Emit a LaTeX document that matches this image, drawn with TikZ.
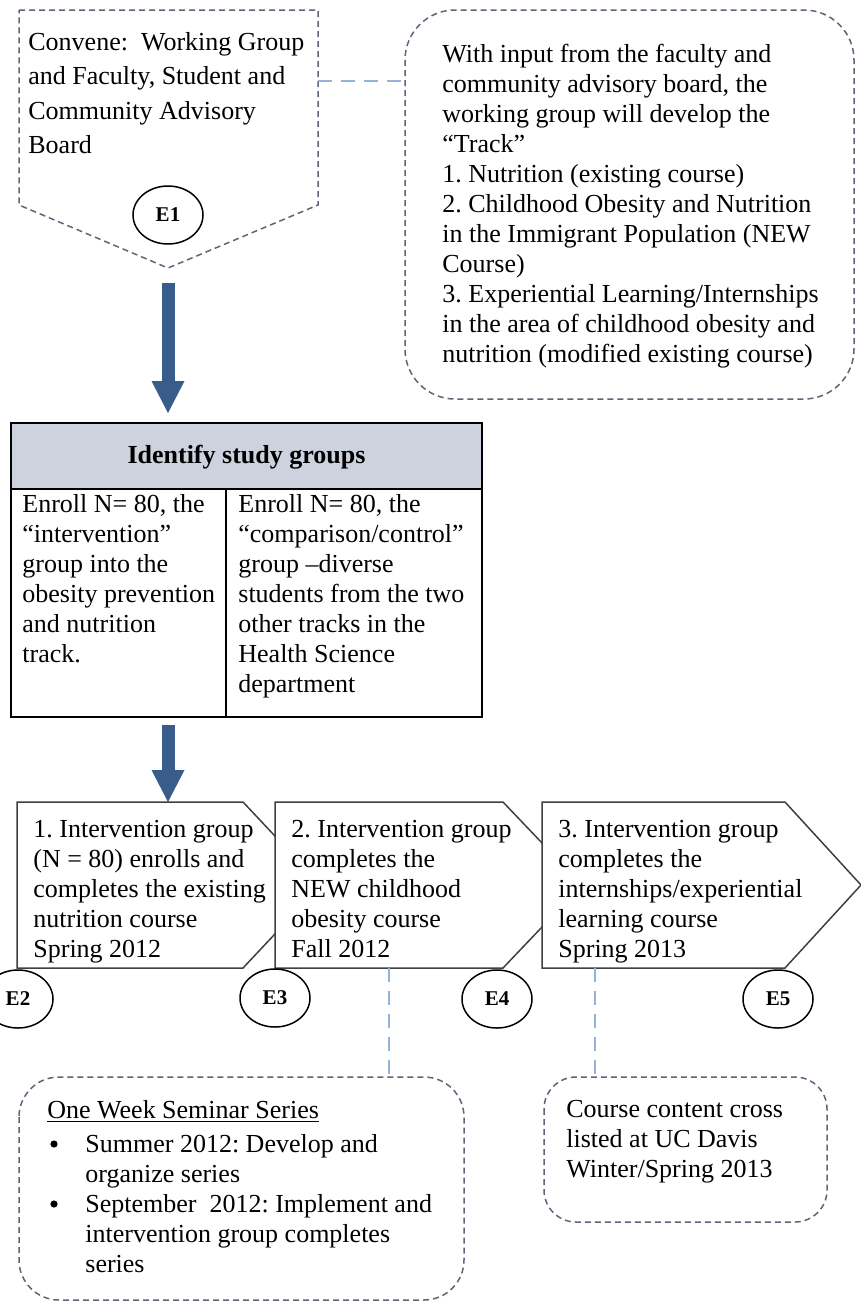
\documentclass[tikz,border=0pt]{standalone}
\usepackage{fontspec}
\setmainfont{Liberation Serif}
\usetikzlibrary{shapes.geometric,arrows.meta}
\definecolor{dashgray}{RGB}{92,102,120}
\definecolor{linkblue}{RGB}{149,179,215}
\definecolor{arrowblue}{RGB}{56,93,138}
\definecolor{headfill}{RGB}{205,211,222}
\newcommand\topstrut{\rule{0pt}{10pt}}
\frenchspacing
\begin{document}
\begin{tikzpicture}[x=0.5pt,y=-0.5pt,
  txt/.style={anchor=north west, inner sep=0pt, align=left, font=\fontsize{13}{15}\selectfont},
  dashbox/.style={draw=dashgray, line width=0.75pt, dash pattern=on 3pt off 2pt, fill=white},
  link/.style={draw=linkblue, line width=1.1pt, dash pattern=on 7pt off 4.5pt},
  procbox/.style={draw=black!75, line width=0.75pt, fill=white},
  eventmark/.style={ellipse, draw=black, line width=0.75pt, fill=white, inner sep=0pt,
    minimum width=35pt, minimum height=29pt, font=\fontsize{10.5}{12}\selectfont\bfseries},
  bigarrow/.style={draw=arrowblue, line width=6.5pt,
    -{Triangle[width=16.5pt,length=16pt,line width=0pt]}},
  tablerule/.style={draw=black, line width=1pt},
  bulletdot/.style={circle, fill=black, inner sep=0pt, minimum size=3.6pt}
]
\useasboundingbox (0,0) rectangle (861,1303);
\clip (0,0) rectangle (861,1303);
\fill[white] (0,0) rectangle (861,1303);

% --- E1 convene box
\draw[dashbox] (19,10) -- (318,10) -- (318,205) -- (168,268) -- (19,205) -- cycle;
\coordinate (cvR) at (318,81);
\node[txt, font=\fontsize{13}{17.2}\selectfont] (convene) at (28,30)
  {\topstrut Convene:~ Working Group\\and Faculty, Student and\\Community Advisory\\Board};
\node[eventmark] (E1) at (168,215) {E1};

% --- track box
\draw[dashbox, rounded corners=25pt] (405,10) rectangle (854,399);
\coordinate (trL) at (405,81);
\node[txt] (track) at (442,42)
  {\topstrut With input from the faculty and\\community advisory board, the\\working group will develop the\\“Track”\\1. Nutrition (existing course)\\2. Childhood Obesity and Nutrition\\in the Immigrant Population (NEW\\Course)\\3. Experiential Learning/Internships\\in the area of childhood obesity and\\nutrition (modified existing course)};
\draw[link] (cvR) -- (trL);

% --- arrow 1
\coordinate (a1s) at (168,283);
\coordinate (a1e) at (168,413);
\draw[bigarrow] (a1s) -- (a1e);

% --- table
\fill[headfill] (11,423) rectangle (482,489);
\draw[tablerule] (11,423) rectangle (482,717);
\draw[tablerule] (11,489) -- (482,489);
\draw[tablerule] (226,489) -- (226,717);
\node[anchor=base, inner sep=0pt, font=\fontsize{13}{15}\selectfont\bfseries] (idhead) at (246.5,463) {Identify study groups};
\node[txt] (enrollA) at (22,492)
  {\topstrut Enroll N= 80, the\\“intervention”\\group into the\\obesity prevention\\and nutrition\\track.};
\node[txt] (enrollB) at (238,492)
  {\topstrut Enroll N= 80, the\\“comparison/control”\\group –diverse\\students from the two\\other tracks in the\\Health Science\\department};

% --- arrow 2
\coordinate (a2s) at (168,725);
\coordinate (a2e) at (168,802);
\draw[bigarrow] (a2s) -- (a2e);

% --- process boxes
\draw[procbox] (17,802) -- (243,802) -- (321,885) -- (243,968) -- (17,968) -- cycle;
\draw[procbox] (275,802) -- (503,802) -- (582,885) -- (503,968) -- (275,968) -- cycle;
\draw[procbox] (542,802) -- (785,802) -- (861,885) -- (785,968) -- (542,968) -- cycle;
\node[txt] (step1) at (33,817)
  {\topstrut 1. Intervention group\\(N = 80) enrolls and\\completes the existing\\nutrition course\\Spring 2012};
\node[txt] (step2) at (291,817)
  {\topstrut 2. Intervention group\\completes the\\NEW childhood\\obesity course\\Fall 2012};
\node[txt] (step3) at (558,817)
  {\topstrut 3. Intervention group\\completes the\\internships/experiential\\learning course\\Spring 2013};

% --- event marks
\node[eventmark] (E2) at (18,999) {E2};
\node[eventmark] (E3) at (275,998) {E3};
\node[eventmark] (E4) at (497,999) {E4};
\node[eventmark] (E5) at (778,999) {E5};

% --- links down
\coordinate (s2b) at (389,968);
\coordinate (semT) at (389,1077);
\draw[link] (s2b) -- (semT);
\coordinate (s3b) at (595,968);
\coordinate (crossT) at (595,1077);
\draw[link] (s3b) -- (crossT);

% --- seminar box
\draw[dashbox, rounded corners=20pt] (19,1077) rectangle (464,1300);
\node[txt] (semtitle) at (47,1098) {\topstrut\underline{One Week Seminar Series}};
\node[bulletdot] (bul1) at (54,1144) {};
\node[txt] (item1) at (85,1132) {\topstrut Summer 2012: Develop and\\organize series};
\node[bulletdot] (bul2) at (54,1204) {};
\node[txt] (item2) at (85,1192) {\topstrut September~ 2012: Implement and\\intervention group completes\\series};

% --- cross listed box
\draw[dashbox, rounded corners=16pt] (544,1077) rectangle (827,1222);
\node[txt] (cross) at (566,1097) {\topstrut Course content cross\\listed at UC Davis\\Winter/Spring 2013};
\end{tikzpicture}
\end{document}
